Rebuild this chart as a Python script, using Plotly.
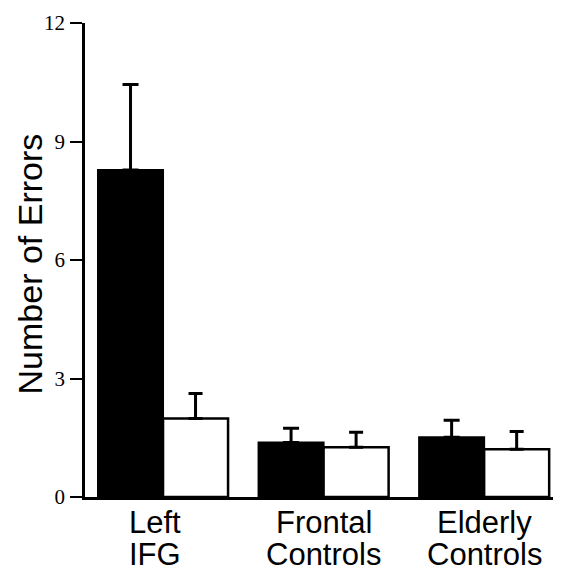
import plotly.graph_objects as go

groups = ["Left IFG", "Frontal Controls", "Elderly Controls"]
label_line1 = ["Left", "Frontal", "Elderly"]
label_line2 = ["IFG", "Controls", "Controls"]
black_vals = [8.28, 1.38, 1.51]
black_err = [2.16, 0.36, 0.43]
white_vals = [1.99, 1.26, 1.21]
white_err = [0.63, 0.38, 0.45]
y_ticks = [0, 3, 6, 9, 12]

# horizontal nudge of each category label (in category units)
label_shift = [-0.05, 0.0, 0.0]

# page has 8px body margin; figure is placed at (8, 8)
OFF = 8
W, H = 553, 566
plot_left, plot_right, plot_top, plot_bottom = 85 - OFF, 558 - OFF, 20 - OFF, 497 - OFF
L, R, T, B = plot_left, W - plot_right, plot_top, H - plot_bottom
pw = plot_right - plot_left
ph = plot_bottom - plot_top

def px_x(px):
    return (px - OFF - plot_left) / pw

def px_y(py):
    return (plot_bottom - (py - OFF)) / ph

xpos = list(range(len(groups)))

fig = go.Figure()
fig.add_trace(go.Bar(
    x=xpos, y=black_vals, name="black",
    marker=dict(color="black", line=dict(color="black", width=2)),
    error_y=dict(type="data", array=black_err, arrayminus=[0]*3, symmetric=False,
                 color="black", thickness=3, width=8),
))
fig.add_trace(go.Bar(
    x=xpos, y=white_vals, name="white",
    marker=dict(color="white", line=dict(color="black", width=2.5)),
    error_y=dict(type="data", array=white_err, arrayminus=[0]*3, symmetric=False,
                 color="black", thickness=3, width=7),
))

for i in xpos:
    fig.add_annotation(x=i + label_shift[i], y=px_y(523), xref="x", yref="paper",
                       text=label_line1[i], showarrow=False, yanchor="middle",
                       font=dict(family="Liberation Sans, Arial", size=31, color="black"))
    fig.add_annotation(x=i + label_shift[i], y=px_y(555), xref="x", yref="paper",
                       text=label_line2[i], showarrow=False, yanchor="middle",
                       font=dict(family="Liberation Sans, Arial", size=31, color="black"))

fig.add_annotation(x=px_x(30), y=px_y(263), xref="paper", yref="paper", text="Number of Errors",
                   textangle=-90, showarrow=False, xanchor="center", yanchor="middle",
                   font=dict(family="Liberation Sans, Arial", size=34, color="black"))

fig.update_layout(
    width=W, height=H,
    margin=dict(l=L, r=R, t=T, b=B, pad=0),
    paper_bgcolor="white", plot_bgcolor="white",
    barmode="group", bargap=0.19, bargroupgap=0,
    showlegend=False,
    xaxis=dict(range=[-0.486, 2.46], showticklabels=False, ticks="",
               showline=True, linecolor="black", linewidth=2.5,
               showgrid=False, zeroline=False, fixedrange=True),
    yaxis=dict(range=[0, 12], tickvals=y_ticks, ticktext=[str(v) for v in y_ticks],
               ticks="outside", ticklen=12, tickwidth=2, tickcolor="black",
               showline=True, linecolor="black", linewidth=2.5,
               showgrid=False, zeroline=False,
               tickfont=dict(family="Liberation Serif, Times New Roman", size=21, color="black"),
               ticklabelstandoff=1),
)

fig.write_html("out.html")
